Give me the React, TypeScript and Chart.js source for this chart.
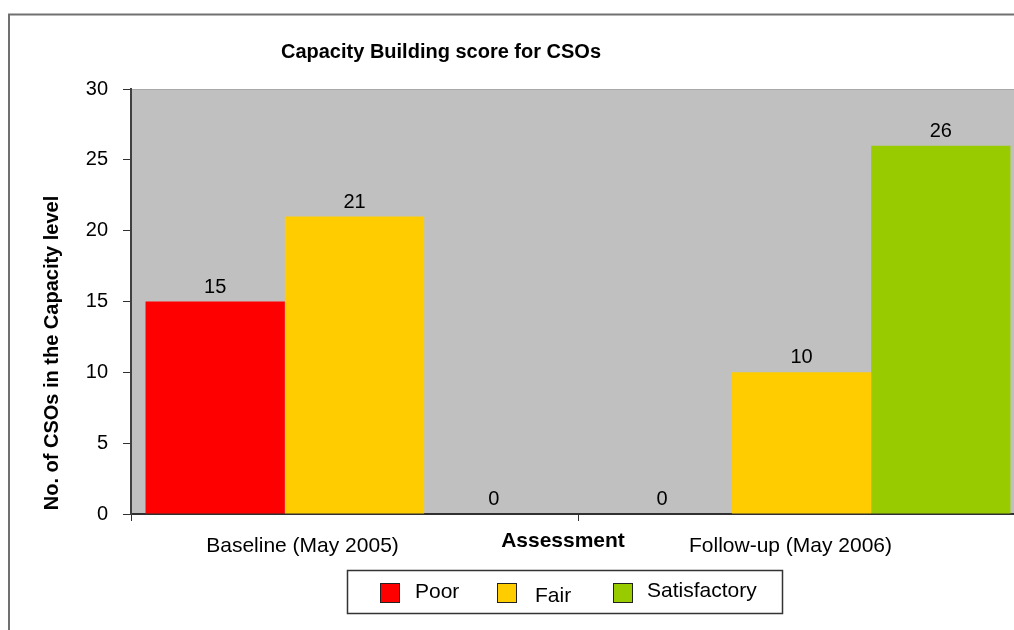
import React, { useEffect, useRef } from "react";
import { Chart, registerables } from "chart.js";

Chart.register(...registerables);

// Chart data
const categories = ["Baseline (May 2005)", "Follow-up (May 2006)"];
const seriesNames = ["Poor", "Fair", "Satisfactory"];
const poorValues = [15, 0];
const fairValues = [21, 10];
const satisfactoryValues = [0, 26];
const yTickValues = [0, 5, 10, 15, 20, 25, 30];

const seriesColors = ["#FF0000", "#FFCC00", "#99CC00"];
const chartTitle = "Capacity Building score for CSOs";
const xAxisTitle = "Assessment";
const yAxisTitle = "No. of CSOs in the Capacity level";

const FONT = '"Liberation Sans", Arial, Helvetica, sans-serif';
const CANVAS_W = 1060;
const CANVAS_H = 660;

// Category labels sit slightly left of each category centre
const categoryLabelShift = [-52, -11];

const decorPlugin = {
  id: "decor",
  beforeDraw(chart: any) {
    const { ctx, chartArea } = chart;
    ctx.save();
    ctx.fillStyle = "#FFFFFF";
    ctx.fillRect(0, 0, chart.width, chart.height);
    // plot area fill
    ctx.fillStyle = "#C0C0C0";
    ctx.fillRect(chartArea.left, chartArea.top, chartArea.right - chartArea.left, chartArea.bottom - chartArea.top);
    ctx.strokeStyle = "#A8A8A8";
    ctx.lineWidth = 1;
    ctx.beginPath();
    ctx.moveTo(chartArea.left, chartArea.top + 0.5);
    ctx.lineTo(chartArea.right, chartArea.top + 0.5);
    ctx.stroke();
    // outer frame
    ctx.strokeStyle = "#707070";
    ctx.lineWidth = 2;
    ctx.strokeRect(9, 14.5, 2000, 2000);
    ctx.restore();
  },
  afterDatasetsDraw(chart: any) {
    const { ctx } = chart;
    ctx.save();
    ctx.fillStyle = "#000000";
    ctx.font = `20px ${FONT}`;
    ctx.textAlign = "center";
    ctx.textBaseline = "alphabetic";
    chart.data.datasets.forEach((ds: any, di: number) => {
      const meta = chart.getDatasetMeta(di);
      meta.data.forEach((el: any, i: number) => {
        ctx.fillText(String(ds.data[i]), el.x, el.y - 9);
      });
    });
    ctx.restore();
  },
  afterDraw(chart: any) {
    const { ctx } = chart;
    const xScale = chart.scales.x;
    ctx.save();
    ctx.fillStyle = "#000000";
    ctx.textBaseline = "alphabetic";

    // title
    ctx.font = `bold 20px ${FONT}`;
    ctx.textAlign = "center";
    ctx.fillText(chartTitle, 441, 58);

    // category labels
    ctx.font = `21px ${FONT}`;
    categories.forEach((c, i) => {
      ctx.fillText(c, xScale.getPixelForValue(i) + categoryLabelShift[i], 552);
    });

    // axis titles
    ctx.font = `bold 21px ${FONT}`;
    ctx.fillText(xAxisTitle, 563, 547);
    ctx.font = `bold 20px ${FONT}`;
    ctx.save();
    ctx.translate(58, 353);
    ctx.rotate(-Math.PI / 2);
    ctx.fillText(yAxisTitle, 0, 0);
    ctx.restore();

    // legend
    ctx.strokeStyle = "#333333";
    ctx.lineWidth = 1.5;
    ctx.strokeRect(347.5, 570.5, 435, 43);
    const swatchX = [380, 497, 613];
    const textX = [415, 535, 647];
    const textY = [598, 602, 597];
    ctx.font = `21px ${FONT}`;
    ctx.textAlign = "left";
    seriesNames.forEach((name, i) => {
      ctx.fillStyle = seriesColors[i];
      ctx.fillRect(swatchX[i], 583, 20, 20);
      ctx.strokeStyle = "#222222";
      ctx.lineWidth = 1;
      ctx.strokeRect(swatchX[i] + 0.5, 583.5, 19, 19);
      ctx.fillStyle = "#000000";
      ctx.fillText(name, textX[i], textY[i]);
    });
    ctx.restore();
  },
};

export default function App() {
  const canvasRef = useRef<HTMLCanvasElement | null>(null);

  useEffect(() => {
    const canvas = canvasRef.current;
    if (!canvas) return;
    const seriesValues = [poorValues, fairValues, satisfactoryValues];
    const chart = new Chart(canvas, {
      type: "bar",
      data: {
        labels: categories,
        datasets: seriesNames.map((name, i) => ({
          label: name,
          data: seriesValues[i],
          backgroundColor: seriesColors[i],
          borderWidth: 0,
          categoryPercentage: 0.935,
          barPercentage: 1,
        })),
      },
      options: {
        responsive: false,
        animation: false,
        devicePixelRatio: 1,
        layout: { padding: { left: 0, top: 89, right: CANVAS_W - 1025, bottom: CANVAS_H - 514 } },
        plugins: {
          legend: { display: false },
          title: { display: false },
          tooltip: { enabled: false },
        },
        scales: {
          x: {
            type: "category",
            offset: true,
            z: 1,
            grid: {
              offset: true,
              drawOnChartArea: false,
              drawTicks: true,
              tickLength: 7,
              tickColor: "#303030",
              tickWidth: 1,
            },
            border: { display: true, color: "#303030", width: 2 },
            ticks: { display: false },
            afterFit: (scale: any) => {
              scale.height = 0;
            },
          },
          y: {
            min: 0,
            max: 30,
            z: 1,
            grid: {
              drawOnChartArea: false,
              drawTicks: true,
              tickLength: 8,
              tickColor: "#303030",
              tickWidth: 1,
            },
            border: { display: true, color: "#404040", width: 2 },
            ticks: {
              color: "#000000",
              font: { family: FONT, size: 20 },
              padding: 15,
            },
            afterBuildTicks: (scale: any) => {
              scale.ticks = yTickValues.map((v) => ({ value: v }));
            },
            afterFit: (scale: any) => {
              scale.width = 131;
            },
          },
        },
      },
      plugins: [decorPlugin],
    });
    return () => chart.destroy();
  }, []);

  return (
    <div
      style={{
        position: "fixed",
        left: 0,
        top: 0,
        width: 1014,
        height: 630,
        overflow: "hidden",
        background: "#FFFFFF",
      }}
    >
      <canvas ref={canvasRef} width={CANVAS_W} height={CANVAS_H} style={{ display: "block" }} />
    </div>
  );
}
